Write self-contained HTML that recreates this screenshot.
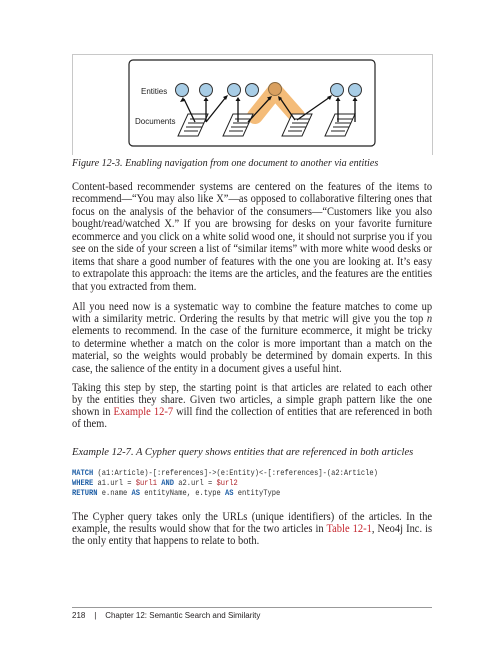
<!DOCTYPE html>
<html><head><meta charset="utf-8"><style>
body{margin:0;width:504px;height:662px;background:#fff;position:relative;overflow:hidden;font-family:"Liberation Serif",serif;color:#231f20}
.l{position:absolute;left:72px;width:412px;font-size:12px;line-height:13px;white-space:nowrap;text-align:justify;text-align-last:justify;transform:scaleX(0.874);transform-origin:0 0}
.e{text-align-last:left}
.c{position:absolute;left:72px;font-style:italic;font-size:11px;line-height:13px;white-space:nowrap;transform-origin:0 0}
.code{position:absolute;left:72px;font-family:"Liberation Mono",monospace;font-size:8px;line-height:9.8px;white-space:pre;color:#333;transform:scaleX(0.885);transform-origin:0 0}
.k{color:#1f5fa6;font-weight:bold}.v{color:#b0262d}
.r{color:#c4262e}
</style></head><body>
<div style="position:absolute;left:72px;top:54px;width:359px;height:100px;border:1px solid #c8c8c8;border-bottom:none"></div>
<svg style="position:absolute;left:0;top:0" width="504" height="160">
<rect x="129" y="60" width="246" height="86" rx="4" fill="#fff" stroke="#222" stroke-width="1.2"/>
<path d="M255 116 L275 91 L297 116" stroke="#f3b56a" stroke-width="16" fill="none" stroke-linecap="round" stroke-linejoin="round" opacity="0.9"/>
<text x="141" y="94" font-family="Liberation Sans" font-size="8" fill="#222">Entities</text>
<text x="135" y="124" font-family="Liberation Sans" font-size="8" fill="#222">Documents</text>
<g fill="#fff" stroke="#222" stroke-width="1">
<path d="M188 114 h20 l-10 22 h-20z"/><path d="M233 114 h20 l-10 22 h-20z"/><path d="M292 114 h20 l-10 22 h-20z"/><path d="M335 114 h20 l-10 22 h-20z"/>
</g>
<g stroke="#222" stroke-width="1">
<path d="M190 119h16M188 123h16M186 127h16M184 131h14M235 119h16M233 123h16M231 127h16M229 131h14M294 119h16M292 123h16M290 127h16M288 131h14M337 119h16M335 123h16M333 127h16M331 131h14"/>
</g>
<g stroke="#111" stroke-width="1.3" fill="none">
<path d="M195 122 L184 99M206 122 L206 99M206 122 L226 97M238 122 L238 99M248 122 L270 98M295 120 L280 98M297 120 L330 97M338 122 L338 99M355 122 L355 99"/>
</g>
<g fill="#111">
<path d="M183 97l-3 5 5-1z"/><path d="M206 97l-2.5 4h5z"/><path d="M228 95l-5 2 3 3z"/><path d="M238 97l-2.5 4h5z"/><path d="M272 96l-5 1.5 3 3z"/><path d="M278 96l1 5 3-3z"/><path d="M332 95l-5 2 3 3z"/><path d="M338 97l-2.5 4h5z"/><path d="M355 97l-2.5 4h5z"/>
</g>
<g fill="#a8cde6" stroke="#333" stroke-width="1">
<circle cx="182" cy="90" r="6.5"/><circle cx="206" cy="90" r="6.5"/><circle cx="234" cy="90" r="6.5"/><circle cx="252" cy="90" r="6.5"/><circle cx="337" cy="90" r="6.5"/><circle cx="355" cy="90" r="6.5"/>
</g>
<circle cx="275" cy="89" r="6.5" fill="#d9a060" stroke="#8a6a40"/>
</svg>
<div class="c" style="top:156.5px;transform:scaleX(0.916)">Figure 12-3. Enabling navigation from one document to another via entities</div>
<div class="l" style="top:179.5px">Content-based recommender systems are centered on the features of the items to</div>
<div class="l" style="top:192px">recommend—“You may also like X”—as opposed to collaborative filtering ones that</div>
<div class="l" style="top:204.5px">focus on the analysis of the behavior of the consumers—“Customers like you also</div>
<div class="l" style="top:217px">bought/read/watched X.” If you are browsing for desks on your favorite furniture</div>
<div class="l" style="top:229.5px">ecommerce and you click on a white solid wood one, it should not surprise you if you</div>
<div class="l" style="top:242px">see on the side of your screen a list of “similar items” with more white wood desks or</div>
<div class="l" style="top:254.5px">items that share a good number of features with the one you are looking at. It’s easy</div>
<div class="l" style="top:267px">to extrapolate this approach: the items are the articles, and the features are the entities</div>
<div class="l e" style="top:279.5px">that you extracted from them.</div>
<div class="l" style="top:299.5px">All you need now is a systematic way to combine the feature matches to come up</div>
<div class="l" style="top:311.5px">with a similarity metric. Ordering the results by that metric will give you the top <i>n</i></div>
<div class="l" style="top:324px">elements to recommend. In the case of the furniture ecommerce, it might be tricky</div>
<div class="l" style="top:336.5px">to determine whether a match on the color is more important than a match on the</div>
<div class="l" style="top:349px">material, so the weights would probably be determined by domain experts. In this</div>
<div class="l e" style="top:361.5px">case, the salience of the entity in a document gives a useful hint.</div>
<div class="l" style="top:380.5px">Taking this step by step, the starting point is that articles are related to each other</div>
<div class="l" style="top:392.5px">by the entities they share. Given two articles, a simple graph pattern like the one</div>
<div class="l" style="top:404.5px">shown in <span class="r">Example 12-7</span> will find the collection of entities that are referenced in both</div>
<div class="l e" style="top:416.5px">of them.</div>
<div class="c" style="top:445.5px;transform:scaleX(0.96)">Example 12-7. A Cypher query shows entities that are referenced in both articles</div>
<div class="code" style="top:469px"><span class="k">MATCH</span> (a1:Article)-[:references]-&gt;(e:Entity)&lt;-[:references]-(a2:Article)
<span class="k">WHERE</span> a1.url = <span class="v">$url1</span> <span class="k">AND</span> a2.url = <span class="v">$url2</span>
<span class="k">RETURN</span> e.name <span class="k">AS</span> entityName, e.type <span class="k">AS</span> entityType</div>
<div class="l" style="top:509.5px">The Cypher query takes only the URLs (unique identifiers) of the articles. In the</div>
<div class="l" style="top:521.5px">example, the results would show that for the two articles in <span class="r">Table 12-1</span>, Neo4j Inc. is</div>
<div class="l e" style="top:533.5px">the only entity that happens to relate to both.</div>
<div style="position:absolute;left:72px;top:607px;width:360px;border-top:1px solid #999"></div>
<div style="position:absolute;left:72px;top:611px;font-family:'Liberation Sans',sans-serif;font-size:8px;white-space:pre;color:#231f20">218    |    Chapter 12: Semantic Search and Similarity</div>
</body></html>
